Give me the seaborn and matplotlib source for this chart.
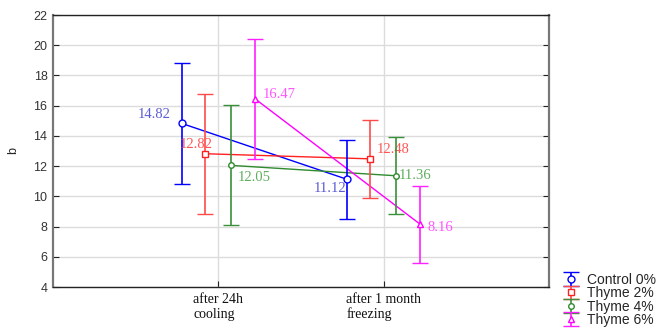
import numpy as np
import pandas as pd
import seaborn as sns
from matplotlib import pyplot as plt

# data
categories = ['after 24h\ncooling', 'after 1 month\nfreezing']
groups = ['Control 0%', 'Thyme 2%', 'Thyme 4%', 'Thyme 6%']
control_mean = [14.82, 11.12]
control_low = [10.80, 8.52]
control_high = [18.80, 13.70]
thyme2_mean = [12.82, 12.48]
thyme2_low = [8.82, 9.92]
thyme2_high = [16.80, 15.03]
thyme4_mean = [12.05, 11.36]
thyme4_low = [8.07, 8.80]
thyme4_high = [16.03, 13.90]
thyme6_mean = [16.47, 8.16]
thyme6_low = [12.45, 5.61]
thyme6_high = [20.42, 10.70]

means = [control_mean, thyme2_mean, thyme4_mean, thyme6_mean]
lows = [control_low, thyme2_low, thyme4_low, thyme6_low]
highs = [control_high, thyme2_high, thyme4_high, thyme6_high]

# styles
line_colors = ['#0000ff', '#ff2020', '#2e8b2e', '#ff00ff']
bar_colors = ['#0000ff', '#ff4a4a', '#3a8f3a', '#ff20ff']
label_colors = ['#5c5cd6', '#ff5555', '#5fae5f', '#ff55ff']
markers = ['o', 's', 'o', '^']
marker_sizes = [5, 5, 4, 5]
offsets = [-0.22, -0.08, 0.075, 0.22]
# label offsets in pixels (dx, dy, ha) per group and category
label_pos = [
    [(-11, 9, 'right'), (-1, -9, 'right')],
    [(-9, 9, 'center'), (6, 9, 'left')],
    [(7, -12, 'left'), (3, 0, 'left')],
    [(8, 4, 'left'), (7, -3, 'left')],
]

rows = []
for g, name in enumerate(groups):
    for c in range(len(categories)):
        rows.append({'group': name, 'pos': c + offsets[g], 'b': means[g][c]})
df = pd.DataFrame(rows)

sns.set_style('white')
fig = plt.figure(figsize=(6.58, 3.28), dpi=100)
ax = fig.add_axes([53 / 658, 1 - 287 / 328, (549 - 53) / 658, (287 - 15) / 328])

sns.lineplot(data=df, x='pos', y='b', hue='group', palette=line_colors,
             linewidth=1.0, legend=False, ax=ax, sort=True, errorbar=None)

handles = []
for g, name in enumerate(groups):
    x = np.arange(len(categories)) + offsets[g]
    m = np.array(means[g])
    err = [m - np.array(lows[g]), np.array(highs[g]) - m]
    h = ax.errorbar(x, m, yerr=err, fmt=markers[g], color=bar_colors[g],
                    mfc='white', mec=line_colors[g], ms=marker_sizes[g],
                    mew=1.0, elinewidth=1.2, capsize=6, capthick=1.2,
                    zorder=3, label=name)
    handles.append(h)
    for c in range(len(categories)):
        dx, dy, ha = label_pos[g][c]
        ax.annotate(f'{means[g][c]:.2f}', (x[c], m[c]),
                    xytext=(dx * 0.72, dy * 0.72), textcoords='offset points',
                    ha=ha, va='center', fontsize=10.5,
                    family='Liberation Serif', color=label_colors[g])

ax.set_xlim(-1, 2)
ax.set_ylim(4, 22)
ax.set_yticks(np.arange(4, 23, 2))
ax.set_xticks(range(len(categories)))
ax.set_xticklabels(categories, family='Liberation Serif', fontsize=10,
                   multialignment='left', color='#111111')
for t in ax.get_yticklabels():
    t.set_family('Liberation Sans')
    t.set_fontsize(9)
    t.set_color('#333333')
ax.set_xlabel('')
ax.set_ylabel('b', family='Liberation Sans', fontsize=9)
ax.yaxis.set_label_coords(-0.068, 0.5)

ax.grid(True, color='#dcdcdc', linewidth=1)
ax.tick_params(direction='in', length=4, left=True, right=True, bottom=True,
               top=False, color='#222222', pad=4)
for side in ['left', 'right']:
    ax.spines[side].set_color('#777777')
    ax.spines[side].set_linewidth(1.6)
for side in ['top', 'bottom']:
    ax.spines[side].set_color('#222222')
    ax.spines[side].set_linewidth(1.0)

fig.legend(handles=handles, labels=groups, loc='upper left',
           bbox_to_anchor=(558 / 658, 1 - 273 / 328), frameon=False,
           prop={'family': 'Liberation Sans', 'size': 10},
           labelspacing=-0.05, handlelength=1.8, handletextpad=0.3,
           borderpad=0.0, borderaxespad=0.0)

fig.savefig('out.png', dpi=100)
